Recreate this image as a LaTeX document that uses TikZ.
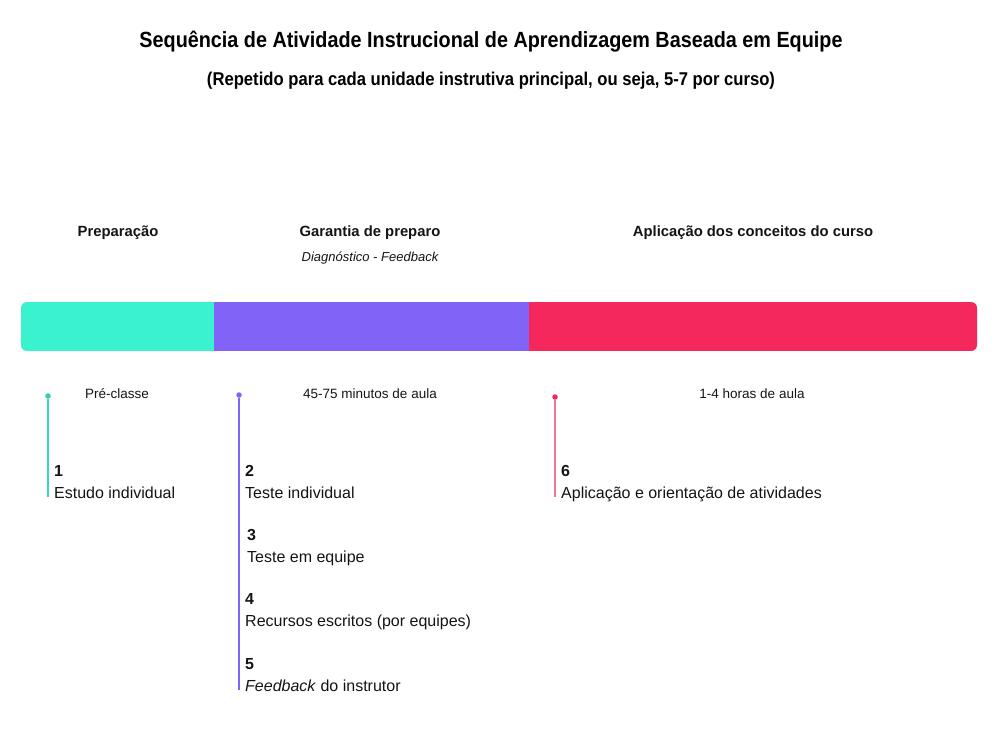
\documentclass[tikz,border=0pt]{standalone}
\usepackage{fontspec}
\setmainfont{Liberation Sans}
\newfontfamily\condfont[FakeStretch=0.9]{Liberation Sans}
\usepackage{tikz}
\usetikzlibrary{positioning}
\definecolor{prepgreen}{RGB}{58,242,206}
\definecolor{rapurple}{RGB}{130,99,248}
\definecolor{appred}{RGB}{245,40,94}
\definecolor{appline}{RGB}{244,120,150}
\definecolor{textdark}{RGB}{20,20,20}

\begin{document}
\begin{tikzpicture}[
			x=1pt, y=-1pt,
			title/.style={font=\condfont\bfseries\fontsize{22}{26}\selectfont, text=black, inner sep=0pt},
			subtitle/.style={font=\condfont\bfseries\fontsize{18.5}{22}\selectfont, text=black, inner sep=0pt},
			phase/.style={font=\bfseries\fontsize{14.8}{18}\selectfont, text=textdark, inner sep=0pt},
			note/.style={font=\fontsize{13.5}{16}\selectfont, text=textdark, inner sep=0pt},
			seg/.style={rectangle, draw=none, minimum height=49pt, inner sep=0pt, anchor=west},
			dot/.style={circle, inner sep=0pt, minimum size=5.5pt},
			item/.style={font=\fontsize{16}{22}\selectfont, text=textdark, align=left, inner sep=0pt, anchor=base west},
			stem/.style={line width=1.4pt}
			]
			\useasboundingbox (0,0) rectangle (1000,745);
			
			% Titles
			\node[title, anchor=base] (title) at (491,47) {Sequência de Atividade Instrucional de Aprendizagem Baseada em Equipe};
			\node[subtitle, anchor=base] (subtitle) at (491,85) {(Repetido para cada unidade instrutiva principal, ou seja, 5-7 por curso)};
			
			% Phase headings
			\node[phase, anchor=base] (prep) at (118,236) {Preparação};
			\node[phase, anchor=base] (ready) at (370,236) {Garantia de preparo};
			\node[note, anchor=base, font=\itshape\fontsize{13}{16}\selectfont] (diag) at (370,261) {Diagnóstico - Feedback};
			\node[phase, anchor=base] (apply) at (753,236) {Aplicação dos conceitos do curso};
			
			% Bar
			\begin{scope}
				\clip[rounded corners=6pt] (21,302) rectangle (977,351);
				\node[seg, fill=prepgreen, minimum width=193pt] (barprep) at (21,326.5) {};
				\node[seg, fill=rapurple, minimum width=316pt, right=-1pt of barprep] (barready) {};
				\node[seg, fill=appred, minimum width=451pt, right=-1pt of barready] (barapply) {};
			\end{scope}
			
			% Durations
			\node[note, anchor=base] (pre) at (117,398) {Pré-classe};
			\node[note, anchor=base] (mins) at (370,398) {45-75 minutos de aula};
			\node[note, anchor=base] (hours) at (752,398) {1-4 horas de aula};
			
			% Stems
			\node[dot, fill=prepgreen!85!black] (dotprep) at (48,396) {};
			\node[dot, fill=rapurple] (dotready) at (239,395) {};
			\node[dot, fill=appred] (dotapply) at (555,397) {};
			\coordinate (endprep) at (48,497);
			\coordinate (endready) at (239,690);
			\coordinate (endapply) at (555,497);
			\draw[stem, prepgreen!90!black] (dotprep) -- (endprep);
			\draw[stem, rapurple] (dotready) -- (endready);
			\draw[stem, appline] (dotapply) -- (endapply);
			
			% Activities
			\node[item] (act1) at (54,498) {\textbf{1}\\Estudo individual};
			\node[item] (act2) at (245,498) {\textbf{2}\\Teste individual};
			\node[item] (act3) at (247,562) {\textbf{3}\\Teste em equipe};
			\node[item] (act4) at (245,626) {\textbf{4}\\Recursos escritos (por equipes)};
			\node[item] (act5) at (245,691) {\textbf{5}\\\textit{Feedback} do instrutor};
			\node[item] (act6) at (561,498) {\textbf{6}\\Aplicação e orientação de atividades};
		\end{tikzpicture}
\end{document}
